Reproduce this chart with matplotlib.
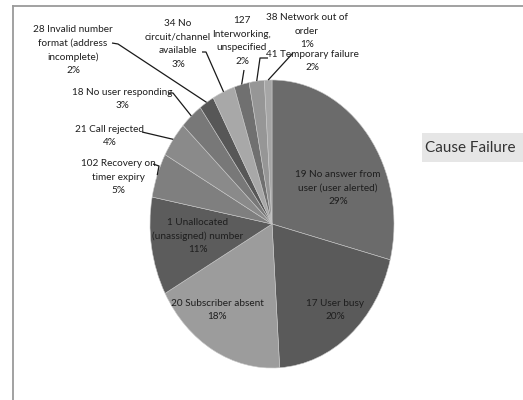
import matplotlib
matplotlib.use("Agg")
import matplotlib.pyplot as plt
from matplotlib.lines import Line2D
from matplotlib.patches import Rectangle
import numpy as np

# data
causes = ["19 No answer from\nuser (user alerted)", "17 User busy", "20 Subscriber absent",
          "1 Unallocated\n(unassigned) number", "102 Recovery on\ntimer expiry", "21 Call rejected",
          "18 No user responding", "28 Invalid number\nformat (address\nincomplete)",
          "34 No\ncircuit/channel\navailable", "127\nInterworking,\nunspecified",
          "41 Temporary failure", "38 Network out of\norder"]
shares = [29, 20, 18, 11, 5, 4, 3, 2, 3, 2, 2, 1]
grays = ["#6b6b6b", "#5a5a5a", "#9c9c9c", "#5c5c5c", "#7f7f7f", "#8a8a8a",
         "#787878", "#575757", "#a8a8a8", "#707070", "#969696", "#a6a6a6"]
title = "Cause Failure"

# layout (pixels, top-left origin)
W, H = 523, 400
cx, cy, rx, ry = 272, 224, 122, 144
label_pos = [(338, 188), (335, 310), (217, 310), (198, 236), (118, 177), (110, 136),
             (122, 99), (73, 50), (178, 44), (242, 41), (312, 61), (307, 31)]
# leader start points, None = label inside slice
leader = [None, None, None, None, [(153, 164), (159, 166)], [(142, 132)],
          [(168, 93), (173, 93)], [(112, 43), (118, 44)], [(202, 52), (206, 52)],
          [(244, 70)], [(268, 58), (260, 58)], [(293, 53)]]

fnt = ["Lato", "DejaVu Sans"]

fig = plt.figure(figsize=(W / 100, H / 100), dpi=100)
ax = fig.add_axes([0, 0, 1, 1])
wedges, _ = ax.pie(shares, colors=grays, startangle=90, counterclock=False,
                   wedgeprops=dict(linewidth=0.4, edgecolor="#c8c8c8"))
ax.set_aspect("auto")
ax.set_xlim(-cx / rx, (W - cx) / rx)
ax.set_ylim(-(H - cy) / ry, cy / ry)
ax.axis("off")


def p2d(px, py):
    return (px - cx) / rx, (cy - py) / ry


for i, w in enumerate(wedges):
    txt = "%s\n%d%%" % (causes[i], shares[i])
    x, y = p2d(*label_pos[i])
    ax.text(x, y, txt, ha="center", va="center", multialignment="center",
            fontsize=7.2, family=fnt, color="#1e1e1e", linespacing=1.62)
    if leader[i] is not None:
        mid = np.deg2rad((w.theta1 + w.theta2) / 2)
        pts = [p2d(*p) for p in leader[i]] + [(np.cos(mid), np.sin(mid))]
        xs, ys = zip(*pts)
        ax.plot(xs, ys, color="#1a1a1a", lw=0.9, solid_capstyle="butt")

# chart frame (cut at right and bottom)
fig.add_artist(Line2D([13 / W, 1], [1 - 6 / H, 1 - 6 / H], color="#9a9a9a", lw=1.3))
fig.add_artist(Line2D([13 / W, 13 / W], [0, 1 - 6 / H], color="#9a9a9a", lw=1.3))

# title box
fig.add_artist(Rectangle((422 / W, 1 - 162 / H), 110 / W, 29 / H,
                         facecolor="#e6e6e6", edgecolor="none"))
fig.text(425 / W, 1 - 148 / H, title, ha="left", va="center", fontsize=11,
         family=fnt, color="#333333")

fig.savefig("out.png", dpi=100)
